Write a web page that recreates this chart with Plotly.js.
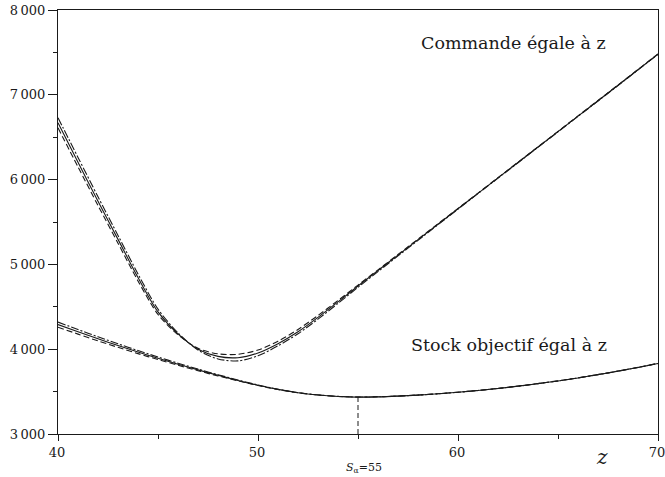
<!DOCTYPE html>
<html>
<head>
<meta charset="utf-8">
<script src="https://cdn.plot.ly/plotly-3.0.1.min.js"></script>
<style>
  html, body { margin: 0; padding: 0; background: #fff; }
  #chart { width: 665px; height: 477px; }
</style>
</head>
<body>
<div id="chart"></div>
<script>
// Order quantity z on the horizontal axis
const z = [40,41,42,43,44,45,46,47,48,49,50,51,52,53,54,55,56,57,58,59,60,61,62,63,64,65,66,67,68,69,70];

// Cost when the order equals z (three variants)
const cmdSolid   = [6670,6205,5745,5295,4845,4440,4180,4000,3915,3900,3955,4065,4205,4375,4558,4745,4928,5110,5292,5474,5656,5838,6020,6202,6384,6566,6748,6930,7112,7296,7480];
const cmdDash    = [6610,6150,5695,5250,4805,4410,4170,4010,3945,3940,3990,4095,4232,4398,4574,4756,4936,5117,5298,5479,5660,5841,6023,6205,6387,6569,6751,6933,7115,7298,7482];
const cmdDashDot = [6730,6262,5797,5342,4887,4472,4192,3990,3885,3862,3922,4040,4182,4355,4540,4730,4915,5100,5284,5468,5652,5835,6017,6199,6381,6563,6745,6927,7109,7294,7478];

// Cost when the target stock equals z (three variants)
const stockSolid   = [4290,4205,4122,4043,3966,3893,3823,3756,3692,3632,3575,3526,3487,3460,3443,3435,3438,3447,3459,3474,3492,3513,3537,3564,3594,3626,3661,3700,3741,3785,3832];
const stockDash    = [4260,4178,4098,4022,3948,3878,3811,3746,3685,3627,3572,3524,3486,3460,3443,3436,3439,3448,3460,3475,3493,3514,3538,3565,3595,3627,3662,3701,3742,3786,3833];
const stockDashDot = [4320,4232,4146,4064,3984,3908,3835,3766,3699,3637,3578,3528,3488,3461,3444,3436,3439,3447,3459,3474,3492,3513,3537,3564,3594,3626,3661,3700,3741,3785,3832];

// Optimal target stock S_alpha
const sAlpha = 55;

// Axis ticks
const xTicks = [40,50,60,70];
const xTickText = ['40','50','60','70'];
const xMinor = [45,55,65];
const yTicks = [3000,4000,5000,6000,7000,8000];
const yTickText = ['3\u2009000','4\u2009000','5\u2009000','6\u2009000','7\u2009000','8\u2009000'];
const yMinor = [3500,4500,5500,6500,7500];

const ink = '#1a1a1a';
const serif = 'DejaVu Serif';

function curve(y, dash) {
  return {
    x: z, y: y, type: 'scatter', mode: 'lines',
    line: { color: ink, width: 1.1, dash: dash, shape: 'spline', smoothing: 0.8 },
    hoverinfo: 'skip', showlegend: false
  };
}

const stockMin = Math.min.apply(null, stockSolid);

const traces = [
  curve(cmdSolid, 'solid'),
  curve(cmdDash, '6px,3px'),
  curve(cmdDashDot, '8px,2px,2px,2px'),
  curve(stockSolid, 'solid'),
  curve(stockDash, '6px,3px'),
  curve(stockDashDot, '8px,2px,2px,2px'),
  {
    x: [sAlpha, sAlpha], y: [yTicks[0], stockMin], type: 'scatter', mode: 'lines',
    line: { color: ink, width: 1, dash: '5px,3px' }, hoverinfo: 'skip', showlegend: false
  }
];

const layout = {
  width: 665, height: 477,
  margin: { l: 58, r: 7, t: 10, b: 43 },
  paper_bgcolor: '#fff', plot_bgcolor: '#fff',
  font: { family: serif, color: ink, size: 13 },
  showlegend: false,
  xaxis: {
    range: [40, 70],
    tickvals: xTicks, ticktext: xTickText,
    ticklabeloverflow: 'allow',
    ticklabelshift: -1,
    ticks: 'outside', ticklen: 6, tickwidth: 1, tickcolor: ink,
    minor: { tickvals: xMinor, ticks: 'outside', ticklen: 4, tickwidth: 1, tickcolor: ink, showgrid: false },
    showline: true, linecolor: ink, linewidth: 1, mirror: true,
    showgrid: false, zeroline: false,
    tickfont: { family: serif, size: 13, color: ink }
  },
  yaxis: {
    range: [3000, 8000],
    tickvals: yTicks, ticktext: yTickText,
    ticks: 'outside', ticklen: 9, tickwidth: 1, tickcolor: ink,
    minor: { tickvals: yMinor, ticks: 'outside', ticklen: 4, tickwidth: 1, tickcolor: ink, showgrid: false },
    showline: true, linecolor: ink, linewidth: 1, mirror: true,
    showgrid: false, zeroline: false,
    tickfont: { family: serif, size: 13, color: ink }
  },
  annotations: [
    { text: 'Commande égale à z', x: 62.75, y: 7610, xref: 'x', yref: 'y',
      showarrow: false, font: { family: serif, size: 17.5, color: ink } },
    { text: 'Stock objectif égal à z', x: 62.55, y: 4050, xref: 'x', yref: 'y',
      showarrow: false, font: { family: serif, size: 17.5, color: ink } },
    { text: '<i>z</i>', x: 67.2, y: -0.055, xref: 'x', yref: 'paper', yanchor: 'middle',
      showarrow: false, font: { family: serif, size: 20, color: ink } },
    { text: '<i>S</i><sub>α</sub>=55', x: 55.3, y: -0.08, xref: 'x', yref: 'paper', yanchor: 'middle',
      showarrow: false, font: { family: serif, size: 11, color: ink } }
  ]
};

Plotly.newPlot('chart', traces, layout, { staticPlot: true, displayModeBar: false });
</script>
</body>
</html>
